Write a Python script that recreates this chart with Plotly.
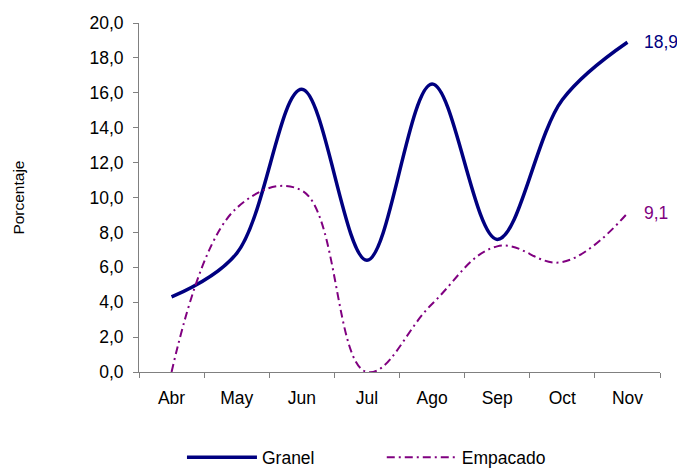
import plotly.graph_objects as go

months = ["Abr", "May", "Jun", "Jul", "Ago", "Sep", "Oct", "Nov"]
granel = [4.3, 6.8, 16.2, 6.4, 16.5, 7.6, 15.6, 18.9]
empacado = [0.0, 9.4, 10.4, 0.0, 3.9, 7.2, 6.3, 9.1]
y_ticks = [0, 2, 4, 6, 8, 10, 12, 14, 16, 18, 20]
y_ticktext = [f"{v:.1f}".replace(".", ",") for v in y_ticks]

NAVY = "#000080"
PURPLE = "#800080"
FONT = "Liberation Sans, Arial, sans-serif"
FS = 17.5

# page body has an 8px margin: figure coordinates are page coordinates minus 8
PL, PR, PT, PB = 131, 652.5, 15.3, 363.7
W, H = 677, 470
PW = PR - PL

fig = go.Figure()
fig.add_trace(go.Scatter(
    x=months, y=granel, name="Granel", mode="lines", legend="legend",
    line=dict(color=NAVY, width=3.5, shape="spline", smoothing=1.0),
))
fig.add_trace(go.Scatter(
    x=months, y=empacado, name="Empacado", mode="lines", legend="legend2",
    line=dict(color=PURPLE, width=2, shape="spline", smoothing=1.15,
              dash="8px,4px,2px,4px"),
))

fig.add_annotation(x=months[-1], y=granel[-1], text=f"{granel[-1]:.1f}".replace(".", ","),
                   showarrow=False, xanchor="left", xshift=15,
                   font=dict(color=NAVY, size=FS, family=FONT))
fig.add_annotation(x=months[-1], y=empacado[-1], text=f"{empacado[-1]:.1f}".replace(".", ","),
                   showarrow=False, xanchor="left", xshift=15,
                   font=dict(color=PURPLE, size=FS, family=FONT))
fig.add_annotation(x=(10 - PL) / PW, y=0.5, xref="paper", yref="paper", text="Porcentaje",
                   textangle=-90, showarrow=False, xanchor="center", yanchor="middle",
                   font=dict(color="black", size=15.5, family=FONT))

legend_common = dict(orientation="h", y=(PB - 449) / (PB - PT), yanchor="middle",
                     xanchor="left", itemwidth=70, bgcolor="rgba(0,0,0,0)",
                     font=dict(size=FS, family=FONT, color="black"))

fig.update_layout(
    width=W, height=H,
    margin=dict(l=PL, r=W - PR, t=PT, b=H - PB, autoexpand=False),
    paper_bgcolor="white", plot_bgcolor="white",
    font=dict(family=FONT, size=FS, color="black"),
    showlegend=True,
    legend=dict(x=(174 - PL) / PW, **legend_common),
    legend2=dict(x=(374 - PL) / PW, **legend_common),
    xaxis=dict(type="category", range=[-0.5, 7.5], showline=True, linecolor="#808080",
               linewidth=1, ticks="outside", tickson="boundaries", ticklen=5,
               tickcolor="#808080", showgrid=False, zeroline=False,
               ticklabelstandoff=10, tickfont=dict(size=FS, family=FONT)),
    yaxis=dict(range=[0, 20], tickvals=y_ticks, ticktext=y_ticktext, showline=True,
               linecolor="#808080", linewidth=1, ticks="outside", ticklen=5,
               tickcolor="#808080", showgrid=False, zeroline=False,
               ticklabelstandoff=6, tickfont=dict(size=FS, family=FONT)),
)

fig.write_html("out.html")
